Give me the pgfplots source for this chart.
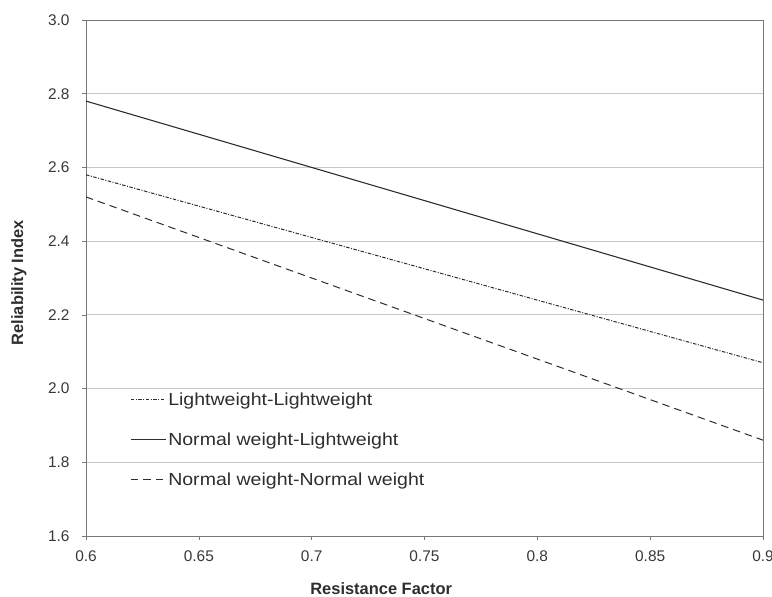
\documentclass[border=0pt]{standalone}
\usepackage{pgfplots}
\pgfplotsset{compat=1.18}
\usepackage{fontspec}
\setmainfont{Liberation Sans}
\newfontfamily\legfont[FakeStretch=1.12]{Liberation Sans}

\definecolor{gridgray}{RGB}{200,200,200}
\definecolor{axisgray}{RGB}{120,120,120}
\definecolor{linegray}{RGB}{45,45,45}

\begin{document}
\begin{tikzpicture}
\begin{axis}[
  scale only axis,
  width=677bp, height=516bp,
  xmin=0.6, xmax=0.9, ymin=1.6, ymax=3.0,
  xtick={0.6,0.65,0.7,0.75,0.8,0.85,0.9},
  xticklabels={0.6,0.65,0.7,0.75,0.8,0.85,0.9},
  ytick={1.6,1.8,2.0,2.2,2.4,2.6,2.8,3.0},
  yticklabel style={/pgf/number format/fixed,
    /pgf/number format/fixed zerofill,
    /pgf/number format/precision=1},
  /pgf/number format/assume math mode=true,
  xtick pos=bottom, ytick pos=left,
  tick align=outside,
  major tick length=4bp,
  tick style={axisgray, line width=0.6pt},
  ymajorgrids,
  grid style={gridgray, line width=0.8pt},
  axis line style={axisgray, line width=0.9pt},
  ticklabel style={font=\fontsize{15.5}{17}\selectfont, text=black!78},
  xticklabel style={yshift=-7bp},
  yticklabel style={xshift=-9bp},
  xlabel={Resistance Factor},
  ylabel={Reliability Index},
  xlabel style={font=\bfseries\fontsize{16.5}{18}\selectfont, text=black!82,
    at={(axis description cs:0.436,0)}, anchor=base, yshift=-58bp},
  ylabel style={font=\bfseries\fontsize{16.5}{18}\selectfont, text=black!82,
    at={(axis description cs:-0.099,0.491)}, anchor=center},
  legend style={draw=none, fill=none, inner sep=0pt,
    at={(axis description cs:0.065,0.282)}, anchor=north west,
    font=\legfont\fontsize{17.5}{19}\selectfont, text=black!82,
    row sep=22bp},
  legend cell align=left,
  legend image code/.code={\draw[#1] (0bp,0bp) -- (35bp,0bp);},
]
\addplot[linegray, line width=1pt, dash pattern=on 3.5bp off 1.5bp on 1bp off 1.5bp]
  coordinates {(0.6,2.58) (0.9,2.07)};
\addlegendentry{Lightweight-Lightweight}
\addplot[linegray, line width=1.1pt]
  coordinates {(0.6,2.78) (0.9,2.24)};
\addlegendentry{Normal weight-Lightweight}
\addplot[linegray, line width=1.0pt, dash pattern=on 7.5bp off 5bp]
  coordinates {(0.6,2.52) (0.9,1.86)};
\addlegendentry{Normal weight-Normal weight}
\end{axis}
\pgfresetboundingbox
\path[use as bounding box] (-86bp,-61bp) rectangle (686bp,536bp);
\end{tikzpicture}
\end{document}
